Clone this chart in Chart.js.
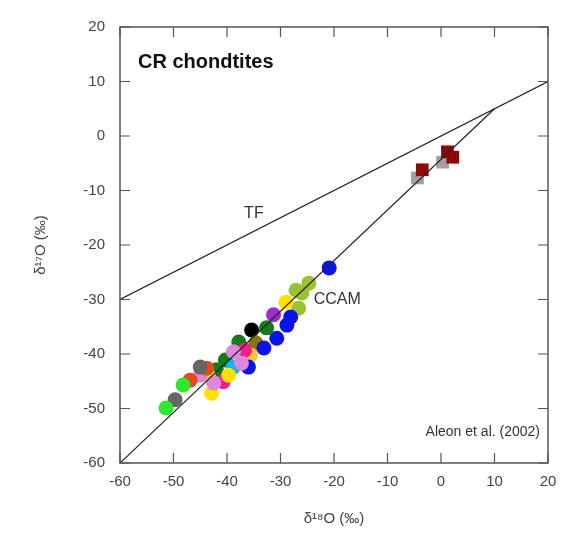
<!DOCTYPE html>
<html>
<head>
<meta charset="utf-8">
<script src="https://cdn.jsdelivr.net/npm/chart.js@4/dist/chart.umd.min.js"></script>
<style>
  html, body { margin: 0; padding: 0; background: #fff; }
  #wrap { width: 575px; height: 546px; }
</style>
</head>
<body>
<div id="wrap"><canvas id="graph"></canvas></div>
<script>
// axis ticks
var xTicks = [-60, -50, -40, -30, -20, -10, 0, 10, 20];
var yTicks = [-60, -50, -40, -30, -20, -10, 0, 10, 20];

// reference lines (TF and CCAM), end points
var tfX = [-60, 20];
var tfY = [-30, 10];
var ccamX = [-60, 10];
var ccamY = [-60, 5];

// chondrule / matrix data, one entry per circle
var d18O = [-51.4, -48.2, -49.7, -46.9, -43.8, -45.0, -45.0, -42.5, -42.9, -43.5,
            -40.7, -39.7, -38.8, -42.0, -40.3, -37.3, -38.8, -36.7, -37.8, -36.0,
            -35.6, -34.6, -35.4, -32.6, -33.1, -30.7, -28.8, -28.1, -31.3, -29.0,
            -27.1, -24.7, -26.0, -26.6, -20.9];
var d17O = [-49.9, -45.7, -48.4, -44.8, -42.6, -42.4, -43.9, -45.3, -47.2, -44.0,
            -45.1, -43.9, -42.4, -42.9, -41.1, -41.7, -39.6, -39.3, -37.8, -42.4,
            -40.2, -38.0, -35.6, -35.2, -38.9, -37.1, -34.7, -33.2, -32.8, -30.5,
            -28.3, -27.0, -28.8, -31.6, -24.2];
var group = ['lime', 'lime', 'gray', 'orange', 'orange', 'gray', 'plum', 'plum', 'yellow', 'yellow',
             'pink', 'yellow', 'cyan', 'green', 'green', 'plum', 'plum', 'pink', 'green', 'blue',
             'gold', 'olive', 'black', 'green', 'blue', 'blue', 'blue', 'blue', 'purple', 'yellow',
             'ygreen', 'ygreen', 'ygreen', 'ygreen', 'blue'];

// squares
var sqX = [-4.4, 0.3, -3.5, 1.2, 2.2];
var sqY = [-7.7, -4.8, -6.2, -2.9, -3.9];
var sqGroup = ['lgray', 'lgray', 'dred', 'dred', 'dred'];

var colors = {
    lime: '#2ee82e', gray: '#666666', orange: '#e8481a', plum: '#dd88dd', yellow: '#ffe000',
    pink: '#f0208a', cyan: '#10b8f0', green: '#147a1c', blue: '#0a14e6', gold: '#f4c830',
    olive: '#8a7410', black: '#000000', purple: '#9a2ed0', ygreen: '#9ac232',
    lgray: '#a0a0a0', dred: '#8c0a0a'
};

function pts(xs, ys, gs, g) {
    var out = [];
    for (var i = 0; i < xs.length; i++) {
        if (gs[i] === g) out.push({x: xs[i], y: ys[i]});
    }
    return out;
}

function lineData(xs, ys) {
    return xs.map(function (v, i) { return {x: v, y: ys[i]}; });
}

var datasets = [
    { label: 'TF', data: lineData(tfX, tfY), showLine: true, borderColor: '#222', borderWidth: 1.2, pointRadius: 0 },
    { label: 'CCAM', data: lineData(ccamX, ccamY), showLine: true, borderColor: '#222', borderWidth: 1.2, pointRadius: 0 }
];

var order = ['lime', 'gray', 'orange', 'plum', 'yellow', 'pink', 'cyan', 'green', 'blue', 'gold', 'olive', 'black', 'purple', 'ygreen'];
order.forEach(function (g) {
    datasets.push({
        label: g, data: pts(d18O, d17O, group, g),
        pointRadius: 7.5, pointStyle: 'circle',
        backgroundColor: colors[g], borderColor: colors[g], borderWidth: 0
    });
});
['dred', 'lgray'].forEach(function (g) {
    datasets.push({
        label: g, data: pts(sqX, sqY, sqGroup, g),
        pointRadius: 9, pointStyle: 'rect',
        backgroundColor: colors[g], borderColor: colors[g], borderWidth: 0
    });
});

// frame, inward ticks and text labels
var decor = {
    id: 'decor',
    afterDatasetsDraw: function (chart) {
        var ctx = chart.ctx, a = chart.chartArea;
        var sx = chart.scales.x, sy = chart.scales.y;
        ctx.save();
        ctx.strokeStyle = '#555';
        ctx.lineWidth = 1.5;
        ctx.strokeRect(a.left, a.top, a.right - a.left, a.bottom - a.top);
        ctx.lineWidth = 1.2;
        ctx.beginPath();
        xTicks.forEach(function (v) {
            var px = sx.getPixelForValue(v);
            ctx.moveTo(px, a.bottom); ctx.lineTo(px, a.bottom - 10);
            ctx.moveTo(px, a.top); ctx.lineTo(px, a.top + 10);
        });
        yTicks.forEach(function (v) {
            var py = sy.getPixelForValue(v);
            ctx.moveTo(a.left, py); ctx.lineTo(a.left + 10, py);
            ctx.moveTo(a.right, py); ctx.lineTo(a.right - 10, py);
        });
        ctx.stroke();

        ctx.fillStyle = '#111';
        ctx.font = 'bold 20px "Liberation Sans", Arial, sans-serif';
        ctx.textBaseline = 'middle';
        ctx.textAlign = 'left';
        ctx.fillText('CR chondtites', a.left + 18, a.top + 35);

        ctx.font = '16px "Liberation Sans", Arial, sans-serif';
        ctx.fillStyle = '#333';
        ctx.fillText('TF', sx.getPixelForValue(-36.8), sy.getPixelForValue(-14.2));
        ctx.fillText('CCAM', sx.getPixelForValue(-23.8), sy.getPixelForValue(-30.1));

        ctx.font = '14px "Liberation Sans", Arial, sans-serif';
        ctx.textAlign = 'right';
        ctx.fillText('Aleon et al. (2002)', a.right - 8, a.bottom - 31);
        ctx.restore();
    }
};

var tickFont = { family: '"Liberation Sans", Arial, sans-serif', size: 15 };

new Chart(document.getElementById('graph'), {
    type: 'scatter',
    data: { datasets: datasets },
    plugins: [decor],
    options: {
        responsive: true,
        maintainAspectRatio: false,
        animation: false,
        layout: { padding: { top: 27, right: 27, left: 30, bottom: 16 } },
        plugins: { legend: { display: false }, tooltip: { enabled: false } },
        scales: {
            x: {
                type: 'linear', min: -60, max: 20,
                afterFit: function (s) { s.height = 67; },
                afterBuildTicks: function (s) { s.ticks = xTicks.map(function (v) { return {value: v}; }); },
                grid: { display: false, drawTicks: false },
                border: { display: false },
                ticks: { color: '#444', font: tickFont, padding: 10, maxRotation: 0 },
                title: { display: true, text: 'δ¹⁸O (‰)', color: '#444',
                         font: { family: '"Liberation Sans", Arial, sans-serif', size: 15 }, padding: { top: 4, bottom: 2 } }
            },
            y: {
                type: 'linear', min: -60, max: 20,
                afterFit: function (s) { s.width = 90; },
                afterBuildTicks: function (s) { s.ticks = yTicks.map(function (v) { return {value: v}; }); },
                grid: { display: false, drawTicks: false },
                border: { display: false },
                ticks: { color: '#444', font: tickFont, padding: 15 },
                title: { display: true, text: 'δ¹⁷O (‰)', color: '#444',
                         font: { family: '"Liberation Sans", Arial, sans-serif', size: 15 }, padding: { top: 2 } }
            }
        }
    }
});
</script>
</body>
</html>
